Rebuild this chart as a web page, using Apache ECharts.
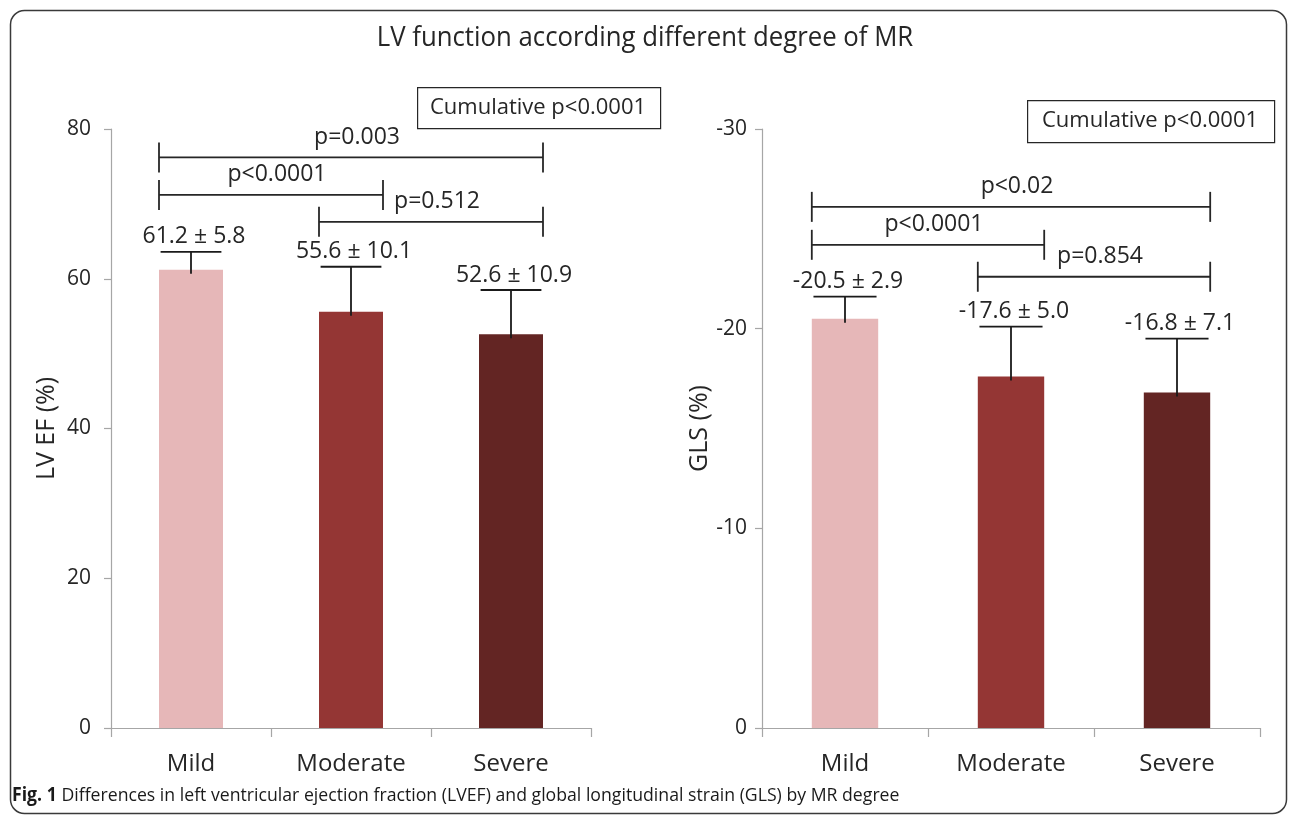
<!DOCTYPE html>
<html><head><meta charset="utf-8">
<script src="https://cdn.jsdelivr.net/npm/echarts@6/dist/echarts.min.js"></script>
<style>html,body{margin:0;padding:0;background:#fff}#c{width:1290px;height:816px}</style>
</head><body><div id="c"></div>
<script>
// ---------- data ----------
const categories = ['Mild', 'Moderate', 'Severe'];
const barColors = ['#E6B7B8', '#943634', '#632523'];

// LV EF (%)
const efMean = [61.2, 55.6, 52.6];
const efSD = [5.8, 10.1, 10.9];          // written in labels
const efErrDrawn = [2.4, 6.0, 5.9];      // length of drawn error bars
const efTicks = [0, 20, 40, 60, 80];
const efBrackets = [[0, 2, 76.2, 'p=0.003'], [0, 1, 71.2, 'p<0.0001'], [1, 2, 67.6, 'p=0.512']];

// GLS (%)
const glsMean = [-20.5, -17.6, -16.8];
const glsSD = [2.9, 5.0, 7.1];
const glsErrDrawn = [1.1, 2.5, 2.7];
const glsTicks = [-30, -20, -10, 0];
const glsBrackets = [[0, 2, -26.1, 'p<0.02'], [0, 1, -24.2, 'p<0.0001'], [1, 2, -22.6, 'p=0.854']];

const titleText = 'LV function according different degree of MR';
const cumulativeText = 'Cumulative p<0.0001';
const captionBold = 'Fig. 1';
const captionText = ' Differences in left ventricular ejection fraction (LVEF) and global longitudinal strain (GLS) by MR degree';

// ---------- helpers ----------
const FONT = "'Open Sans', sans-serif";
const INK = '#262626';
const AXIS = '#A6A6A6';

function labelsFor(mean, sd) {
  return mean.map((m, i) => m.toFixed(1) + ' \u00B1 ' + sd[i].toFixed(1));
}

function errRenderer(labels) {
  return function (params, api) {
    const i = api.value(0);
    const top = api.coord([i, api.value(1)]);
    const cap = api.coord([i, api.value(2)]);
    const band = api.size([1, 0])[0];
    const hw = band * 0.19;
    return {
      type: 'group',
      children: [
        { type: 'line', shape: { x1: cap[0], y1: top[1] + 4, x2: cap[0], y2: cap[1] }, style: { stroke: '#1a1a1a', lineWidth: 1.8 } },
        { type: 'line', shape: { x1: cap[0] - hw, y1: cap[1], x2: cap[0] + hw, y2: cap[1] }, style: { stroke: '#1a1a1a', lineWidth: 1.8 } },
        { type: 'text', x: cap[0] + 3, y: cap[1] - 15,
          style: { text: labels[params.dataIndex], fontSize: 23, fontFamily: FONT, fill: INK, align: 'center', verticalAlign: 'middle' } }
      ]
    };
  };
}

function bracketRenderer(brackets) {
  return function (params, api) {
    const b = brackets[params.dataIndex];
    const band = api.size([1, 0])[0];
    const p1 = api.coord([b[0], b[2]]);
    const p2 = api.coord([b[1], b[2]]);
    const x1 = p1[0] - band * 0.2, x2 = p2[0] + band * 0.2, y = p1[1];
    const st = { stroke: '#262626', lineWidth: 1.8 };
    return {
      type: 'group',
      children: [
        { type: 'line', shape: { x1: x1, y1: y, x2: x2, y2: y }, style: st },
        { type: 'line', shape: { x1: x1, y1: y - 15, x2: x1, y2: y + 15 }, style: st },
        { type: 'line', shape: { x1: x2, y1: y - 15, x2: x2, y2: y + 15 }, style: st },
        { type: 'text', x: (x1 + x2) / 2 + 6, y: y - 20,
          style: { text: b[3], fontSize: 23, fontFamily: FONT, fill: INK, align: 'center', verticalAlign: 'middle' } }
      ]
    };
  };
}

function xAxisCfg(gi) {
  return {
    type: 'category', gridIndex: gi, data: categories,
    axisLine: { lineStyle: { color: AXIS, width: 1.2 } },
    axisTick: { show: true, length: 9, interval: 0, alignWithLabel: false, lineStyle: { color: AXIS, width: 1.2 } },
    axisLabel: { fontSize: 24, color: INK, fontFamily: FONT, margin: 24, interval: 0 }
  };
}

function yAxisCfg(gi, ticks, name, extra) {
  const mn = Math.min.apply(null, ticks), mx = Math.max.apply(null, ticks);
  return Object.assign({
    type: 'value', gridIndex: gi, min: mn, max: mx, interval: Math.abs(ticks[1] - ticks[0]),
    name: name, nameLocation: 'middle', nameRotate: 90,
    nameTextStyle: { fontSize: 25, color: INK, fontFamily: FONT },
    axisLine: { show: true, lineStyle: { color: AXIS, width: 1.2 } },
    axisTick: { show: true, length: 7, inside: false, lineStyle: { color: AXIS, width: 1.2 } },
    splitLine: { show: false },
    axisLabel: { fontSize: 21, color: INK, fontFamily: FONT }
  }, extra);
}

const efLabels = labelsFor(efMean, efSD);
const glsLabels = labelsFor(glsMean, glsSD);

const option = {
  animation: false,
  backgroundColor: '#fff',
  grid: [
    { left: 111, right: 1290 - 591, top: 129, bottom: 816 - 728 },
    { left: 762, right: 1290 - 1260, top: 129, bottom: 816 - 728 }
  ],
  xAxis: [xAxisCfg(0), xAxisCfg(1)],
  yAxis: [
    yAxisCfg(0, efTicks, 'LV EF (%)', { nameGap: 52, axisLabel: { fontSize: 21, color: INK, fontFamily: FONT, margin: 20 } }),
    yAxisCfg(1, glsTicks, 'GLS (%)', { inverse: true, nameGap: 45, axisLabel: { fontSize: 21, color: INK, fontFamily: FONT, margin: 15 } })
  ],
  series: [
    { type: 'bar', xAxisIndex: 0, yAxisIndex: 0, barWidth: '40%',
      data: efMean.map((v, i) => ({ value: v, itemStyle: { color: barColors[i] } })) },
    { type: 'bar', xAxisIndex: 1, yAxisIndex: 1, barWidth: '40%',
      data: glsMean.map((v, i) => ({ value: v, itemStyle: { color: barColors[i] } })) },
    { type: 'custom', xAxisIndex: 0, yAxisIndex: 0, z: 5, clip: false,
      renderItem: errRenderer(efLabels),
      encode: { x: 0, y: [1, 2] },
      data: efMean.map((v, i) => [i, v, v + efErrDrawn[i]]) },
    { type: 'custom', xAxisIndex: 1, yAxisIndex: 1, z: 5, clip: false,
      renderItem: errRenderer(glsLabels),
      encode: { x: 0, y: [1, 2] },
      data: glsMean.map((v, i) => [i, v, v - glsErrDrawn[i]]) },
    { type: 'custom', xAxisIndex: 0, yAxisIndex: 0, z: 5, clip: false,
      renderItem: bracketRenderer(efBrackets),
      encode: { x: 0, y: 1 },
      data: efBrackets.map(b => [b[0], b[2]]) },
    { type: 'custom', xAxisIndex: 1, yAxisIndex: 1, z: 5, clip: false,
      renderItem: bracketRenderer(glsBrackets),
      encode: { x: 0, y: 1 },
      data: glsBrackets.map(b => [b[0], b[2]]) }
  ],
  graphic: [
    { type: 'rect', left: 8, top: 8, z: 0, silent: true,
      shape: { width: 1276, height: 803, r: 14 },
      style: { fill: 'none', stroke: '#3a3a3a', lineWidth: 1.5 } },
    { type: 'text', x: 645, y: 38, z: 10, scaleX: 0.92, originX: 0,
      style: { text: titleText, fontSize: 28, fontFamily: FONT, fill: INK, align: 'center', verticalAlign: 'middle' } },
    { type: 'rect', left: 417, top: 87, z: 10,
      shape: { width: 243, height: 41 },
      style: { fill: '#fff', stroke: '#262626', lineWidth: 1.2 } },
    { type: 'text', x: 538, y: 108, z: 11,
      style: { text: cumulativeText, fontSize: 22, fontFamily: FONT, fill: INK, align: 'center', verticalAlign: 'middle' } },
    { type: 'rect', left: 1027, top: 100, z: 10,
      shape: { width: 247, height: 42 },
      style: { fill: '#fff', stroke: '#262626', lineWidth: 1.2 } },
    { type: 'text', x: 1150, y: 121, z: 11,
      style: { text: cumulativeText, fontSize: 22, fontFamily: FONT, fill: INK, align: 'center', verticalAlign: 'middle' } },
    { type: 'text', x: 12, y: 796, z: 10, scaleX: 0.93, originX: 0,
      style: {
        text: '{b|' + captionBold + '}{r|' + captionText + '}',
        verticalAlign: 'middle', align: 'left',
        rich: {
          b: { fontSize: 19, fontWeight: 'bold', fontFamily: FONT, fill: '#1a1a1a' },
          r: { fontSize: 19, fontFamily: FONT, fill: '#1a1a1a' }
        }
      } }
  ]
};

const chart = echarts.init(document.getElementById('c'), null, { renderer: 'canvas' });
chart.setOption(option);
</script>
</body></html>
